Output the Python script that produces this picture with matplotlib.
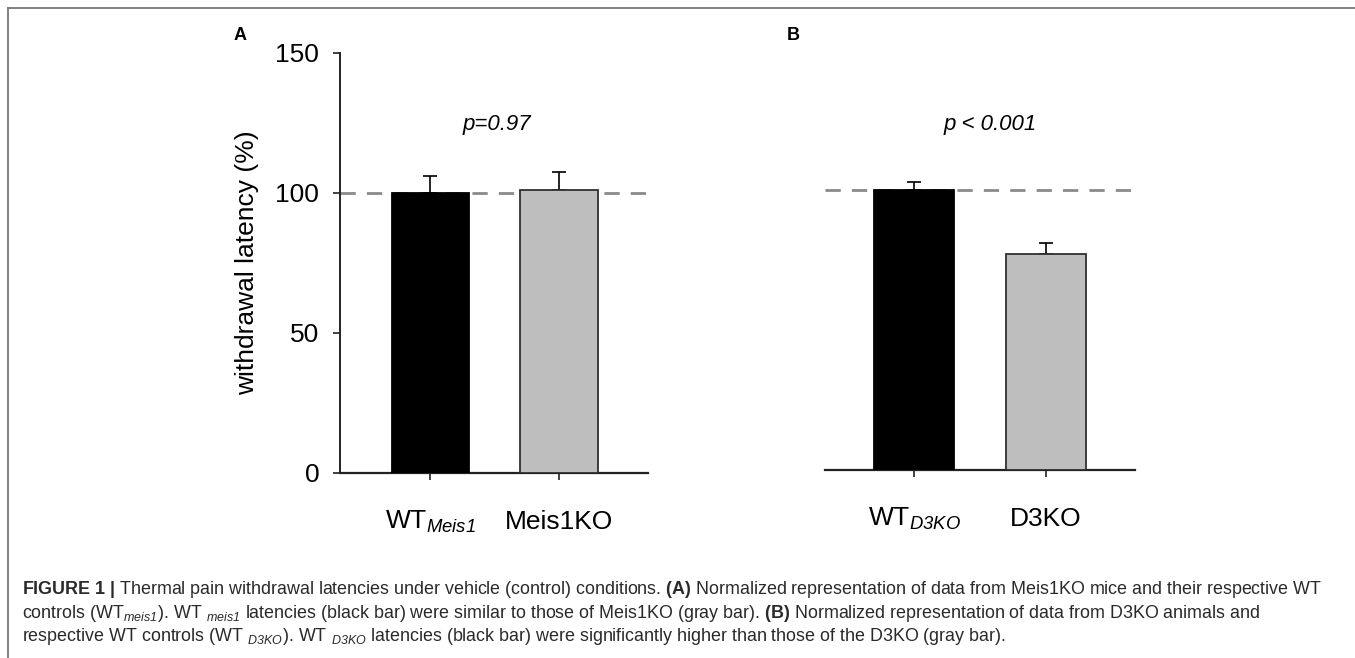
import matplotlib
matplotlib.use('Agg')
import matplotlib.pyplot as plt
from matplotlib.lines import Line2D

plt.rcParams['font.family'] = ['Liberation Sans', 'DejaVu Sans']
plt.rcParams['mathtext.fontset'] = 'custom'
plt.rcParams['mathtext.rm'] = 'Liberation Sans'
plt.rcParams['mathtext.it'] = 'Liberation Sans:italic'
plt.rcParams['mathtext.sf'] = 'Liberation Sans:italic'  # italic incl. digits
plt.rcParams['mathtext.bf'] = 'Liberation Sans:bold'
plt.rcParams['lines.scale_dashes'] = False

# panel A: Meis1
groups_a = [r'WT$_{\mathsf{Meis1}}$', 'Meis1KO']
means_a = [100.0, 101.0]
sem_a = [6.0, 6.6]
# panel B: D3
groups_b = [r'WT$_{\mathsf{D3KO}}$', 'D3KO']
means_b = [100.1, 77.3]
sem_b = [2.6, 3.8]

pvals = ['p=0.97', 'p < 0.001']
bar_colors = ['black', '#bebebe']
edge_colors = ['black', '#303030']

W, H = 1355, 658
fig = plt.figure(figsize=(W / 100, H / 100), dpi=100)

def px_axes(l, r, b, t):
    return fig.add_axes([l / W, 1 - b / H, (r - l) / W, (b - t) / H])

axA = px_axes(340, 648, 473, 53)
axB = px_axes(825, 1135, 470, 50)

panels = [
    (axA, groups_a, means_a, sem_a, (-0.70, 1.69), pvals[0], (0.52, 124.6)),
    (axB, groups_b, means_b, sem_b, (-0.675, 1.675), pvals[1], (0.576, 123.5)),
]
for ax, groups, means, sem, xl, p, ppos in panels:
    xs = list(range(len(means)))
    ax.bar(xs, means, width=0.6, color=bar_colors, edgecolor=edge_colors,
           linewidth=1.3, zorder=3)
    ax.errorbar(xs, means, yerr=[[0] * len(sem), sem], fmt='none',
                ecolor='black', elinewidth=1.2, capsize=4.8, capthick=1.2, zorder=2)
    ax.axhline(100, color='#8a8a8a', lw=2, dashes=(11, 8), zorder=1)
    ax.set_xlim(*xl)
    ax.set_ylim(0, 150)
    ax.set_xticks(xs)
    ax.set_xticklabels([])
    ax.tick_params(axis='x', length=5, width=1.2, color='#222')
    for x, g in zip(xs, groups):
        ax.annotate(g, xy=(x, 0), xycoords='data', xytext=(0, -40),
                    textcoords='offset points', ha='center', va='baseline',
                    fontsize=19, annotation_clip=False)
    ax.text(ppos[0], ppos[1], p, ha='center', va='center', fontsize=16, style='italic')
    for s in ['top', 'right']:
        ax.spines[s].set_visible(False)
    ax.spines['bottom'].set_linewidth(1.6)
    ax.spines['bottom'].set_color('#222')
    ax.set_facecolor('none')

axA.spines['left'].set_linewidth(1.4)
axA.spines['left'].set_color('#222')
axA.set_yticks([0, 50, 100, 150])
axA.tick_params(axis='y', length=5, width=1.2, color='#222', pad=10, labelsize=19)
axA.set_ylabel('withdrawal latency (%)', fontsize=19, labelpad=12)

axB.spines['left'].set_visible(False)
axB.set_yticks([])

fig.text(240 / W, 1 - 36 / H, 'A', fontsize=13, fontweight='bold', ha='center', va='center')
fig.text(793 / W, 1 - 36 / H, 'B', fontsize=13, fontweight='bold', ha='center', va='center')

# outer frame (left and top)
fig.add_artist(Line2D([8 / W, 8 / W], [0, 1 - 8 / H], transform=fig.transFigure,
                      color='#777', lw=1.3))
fig.add_artist(Line2D([8 / W, 1], [1 - 8 / H, 1 - 8 / H], transform=fig.transFigure,
                      color='#777', lw=1.3))

caption = [
    r'$\mathbf{FIGURE\ 1\ |}$ Thermal pain withdrawal latencies under vehicle (control) conditions. '
    r'$\mathbf{(A)}$ Normalized representation of data from Meis1KO mice and their respective WT',
    r'controls (WT$_{\mathsf{meis1}}$). WT $_{\mathsf{meis1}}$ latencies (black bar) were similar to those of '
    r'Meis1KO (gray bar). $\mathbf{(B)}$ Normalized representation of data from D3KO animals and',
    r'respective WT controls (WT $_{\mathsf{D3KO}}$). WT $_{\mathsf{D3KO}}$ latencies (black bar) were '
    r'significantly higher than those of the D3KO (gray bar).',
]
for i, line in enumerate(caption):
    fig.text(22 / W, 1 - (594 + 23.5 * i) / H, line, fontsize=12.9, color='#2a2a2a',
             ha='left', va='baseline')

fig.savefig('out.png', dpi=100)
